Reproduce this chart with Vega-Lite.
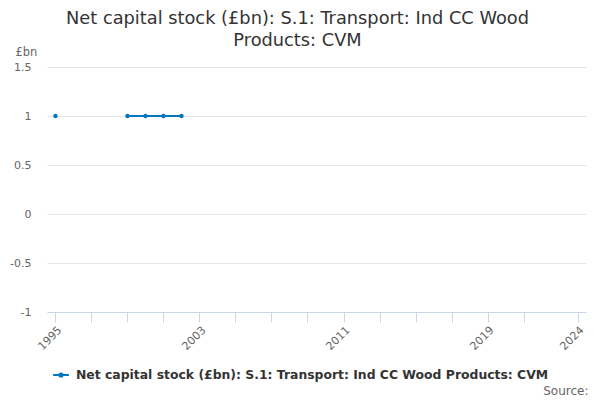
{
  "$schema": "https://vega.github.io/schema/vega-lite/v6.json",
  "autosize": {"type": "none"},
  "width": 539,
  "height": 245,
  "padding": {"left": 47, "top": 67, "right": 14, "bottom": 88},
  "background": "white",
  "title": {
    "text": ["Net capital stock (£bn): S.1: Transport: Ind CC Wood", "Products: CVM"],
    "font": "DejaVu Sans",
    "fontSize": 17.8,
    "fontWeight": "normal",
    "color": "#333333",
    "anchor": "middle",
    "frame": "group",
    "dx": -19,
    "offset": -4,
    "lineHeight": 22
  },
  "data": {
    "values": [
      {"year": 1995, "value": 1, "series": "Net capital stock (£bn): S.1: Transport: Ind CC Wood Products: CVM"},
      {"year": 1996, "value": null, "series": "Net capital stock (£bn): S.1: Transport: Ind CC Wood Products: CVM"},
      {"year": 1997, "value": null, "series": "Net capital stock (£bn): S.1: Transport: Ind CC Wood Products: CVM"},
      {"year": 1998, "value": null, "series": "Net capital stock (£bn): S.1: Transport: Ind CC Wood Products: CVM"},
      {"year": 1999, "value": 1, "series": "Net capital stock (£bn): S.1: Transport: Ind CC Wood Products: CVM"},
      {"year": 2000, "value": 1, "series": "Net capital stock (£bn): S.1: Transport: Ind CC Wood Products: CVM"},
      {"year": 2001, "value": 1, "series": "Net capital stock (£bn): S.1: Transport: Ind CC Wood Products: CVM"},
      {"year": 2002, "value": 1, "series": "Net capital stock (£bn): S.1: Transport: Ind CC Wood Products: CVM"}
    ]
  },
  "mark": {
    "type": "line",
    "strokeWidth": 2,
    "invalid": "break-paths-filter-domains",
    "point": {"filled": true, "size": 20}
  },
  "encoding": {
    "x": {
      "field": "year",
      "type": "quantitative",
      "scale": {"domain": [1994.53, 2024.47], "nice": false, "zero": false},
      "axis": {
        "values": [1995, 1997, 1999, 2001, 2003, 2005, 2007, 2009, 2011, 2013, 2015, 2017, 2019, 2021, 2024],
        "labelExpr": "indexof([1995, 2003, 2011, 2019, 2024], datum.value) >= 0 ? toString(datum.value) : ''",
        "grid": false,
        "domainColor": "#ccd6eb",
        "tickColor": "#ccd6eb",
        "tickSize": 10,
        "labelAngle": -45,
        "labelAlign": "right",
        "labelBaseline": "top",
        "labelPadding": 2,
        "labelFont": "DejaVu Sans",
        "labelFontSize": 11,
        "labelColor": "#666666",
        "labelOverlap": false,
        "labelBound": false,
        "title": "Source:",
        "titleFont": "DejaVu Sans",
        "titleFontSize": 12,
        "titleFontWeight": "normal",
        "titleColor": "#666666",
        "titleAnchor": null,
        "titleAlign": "right",
        "titleX": 541,
        "titleY": 78,
        "titleBaseline": "middle"
      }
    },
    "y": {
      "field": "value",
      "type": "quantitative",
      "scale": {"domain": [-1, 1.5], "nice": false, "zero": false},
      "axis": {
        "values": [-1, -0.5, 0, 0.5, 1, 1.5],
        "labelExpr": "toString(datum.value)",
        "domain": false,
        "ticks": false,
        "gridColor": "#e6e6e6",
        "labelPadding": 16,
        "labelFont": "DejaVu Sans",
        "labelFontSize": 11,
        "labelColor": "#666666",
        "title": "£bn",
        "titleAngle": 0,
        "titleAlign": "left",
        "titleBaseline": "middle",
        "titleX": -32,
        "titleY": -15,
        "titleFont": "DejaVu Sans",
        "titleFontSize": 11.5,
        "titleFontWeight": "normal",
        "titleColor": "#666666"
      }
    },
    "color": {
      "field": "series",
      "type": "nominal",
      "scale": {"range": ["#0077c0"]},
      "legend": {
        "title": null,
        "orient": "none",
        "legendX": 5,
        "legendY": 299,
        "symbolType": "M-1,0L1,0M-0.2,0A0.2,0.2 0 1,0 0.2,0A0.2,0.2 0 1,0 -0.2,0",
        "symbolSize": 250,
        "symbolStrokeWidth": 2,
        "labelFont": "DejaVu Sans",
        "labelFontSize": 12.4,
        "labelFontWeight": "bold",
        "labelColor": "#333333",
        "labelLimit": 600,
        "labelOffset": 6
      }
    }
  },
  "config": {"view": {"stroke": null}}
}
